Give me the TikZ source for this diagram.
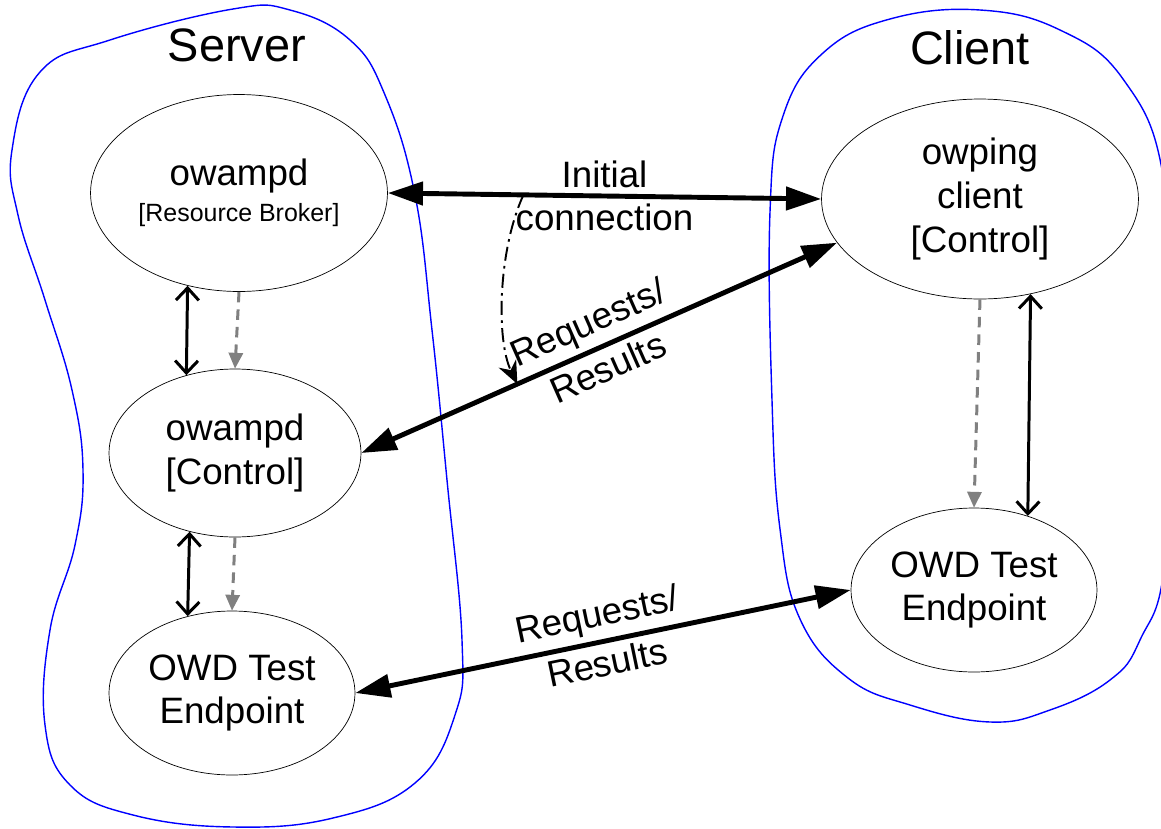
\documentclass[tikz,border=0pt]{standalone}
\usepackage{fontspec}
\setmainfont{Liberation Sans}
\usetikzlibrary{arrows.meta,shapes.geometric}

\begin{document}
\begin{tikzpicture}[
    x=0.02cm, y=-0.02cm,
    proc/.style={draw, ellipse, inner sep=0pt, align=center,
                 font=\fontsize{20.9}{24.8}\selectfont},
    host/.style={draw=blue, line width=0.8pt},
    title/.style={font=\fontsize{26.7}{32}\selectfont},
    lbl/.style={font=\fontsize{20.9}{24.8}\selectfont, inner sep=3pt},
    wire/.style={{Triangle[length=20pt,width=13pt]}-{Triangle[length=20pt,width=13pt]},
                 line width=2.8pt},
    ctl/.style={{Straight Barb[length=7pt,width=13pt]}-{Straight Barb[length=7pt,width=13pt]},
                line width=1.7pt},
    spawn/.style={-{Triangle[length=9pt,width=8pt]}, gray, line width=1.7pt,
                  dash pattern=on 6pt off 4pt},
    hand/.style={-{Stealth[length=13pt,width=11pt]}, line width=1.1pt,
                 dash pattern=on 8pt off 3pt on 1.5pt off 3pt},
  ]
    \useasboundingbox (0,0) rectangle (1161,829);

    % Hosts
    \draw[host] plot[smooth cycle, tension=0.7] coordinates {
      (12,150) (40,72) (110,40) (233,9) (290,10) (350,40) (385,95) (415,195)
      (432,330) (447,480) (462,640) (455,715) (415,783) (333,818) (233,827)
      (133,815) (70,785) (45,725) (50,630) (75,545) (83,470) (72,390)
      (45,300) (18,215)};
    \draw[host] plot[smooth cycle, tension=0.7] coordinates {
      (980,10) (1060,30) (1123,79) (1163,175) (1170,350) (1165,560)
      (1140,640) (1110,680) (1050,710) (990,722) (910,705) (848,678)
      (800,619) (780,529) (772,400) (770,212) (783,116) (823,53) (890,19)};
    \node[title] (srvname) at (237,45) {Server};
    \node[title] (cltname) at (970,48) {Client};

    % Server processes
    \node[proc, minimum width=5.94cm, minimum height=3.94cm] (broker) at (239,193)
      {owampd\\[-4pt]{\fontsize{14.2}{17}\selectfont [Resource Broker]}};
    \node[proc, minimum width=5.04cm, minimum height=3.36cm] (ctrl) at (235,453)
      {owampd\\{[}Control{]}};
    \node[proc, minimum width=4.92cm, minimum height=3.28cm] (sep) at (232,693)
      {OWD Test\\Endpoint};

    % Client processes
    \node[proc, minimum width=6.34cm, minimum height=4.0cm] (owping) at (980,199)
      {owping\\client\\{[}Control{]}};
    \node[proc, minimum width=4.92cm, minimum height=3.28cm] (cep) at (974,590)
      {OWD Test\\Endpoint};

    % Local links
    \draw[ctl] (broker.241) -- (ctrl.122);
    \draw[spawn] (broker.south) -- (ctrl.north);
    \draw[ctl] (ctrl.240) -- (sep.120);
    \draw[spawn] (ctrl.south) -- (sep.north);
    \draw[spawn] (owping.south) -- (cep.north);
    \draw[ctl] (owping.298) -- (cep.54);

    % Network links
    \draw[wire] (broker.east) -- coordinate[pos=0.313] (ichand)
      node[lbl, midway, above] {Initial}
      node[lbl, midway, below] {connection} (owping.west);
    \draw[wire] (ctrl.east) -- coordinate[pos=0.328] (rrhand)
      node[lbl, midway, sloped, above] {Requests/}
      node[lbl, midway, sloped, below] {Results} (owping.197);
    \draw[wire] (sep.east) --
      node[lbl, midway, sloped, above] {Requests/}
      node[lbl, midway, sloped, below] {Results} (cep.west);
    \draw[hand] (ichand) .. controls (498,250) and (496,340) .. (rrhand);
\end{tikzpicture}
\end{document}
